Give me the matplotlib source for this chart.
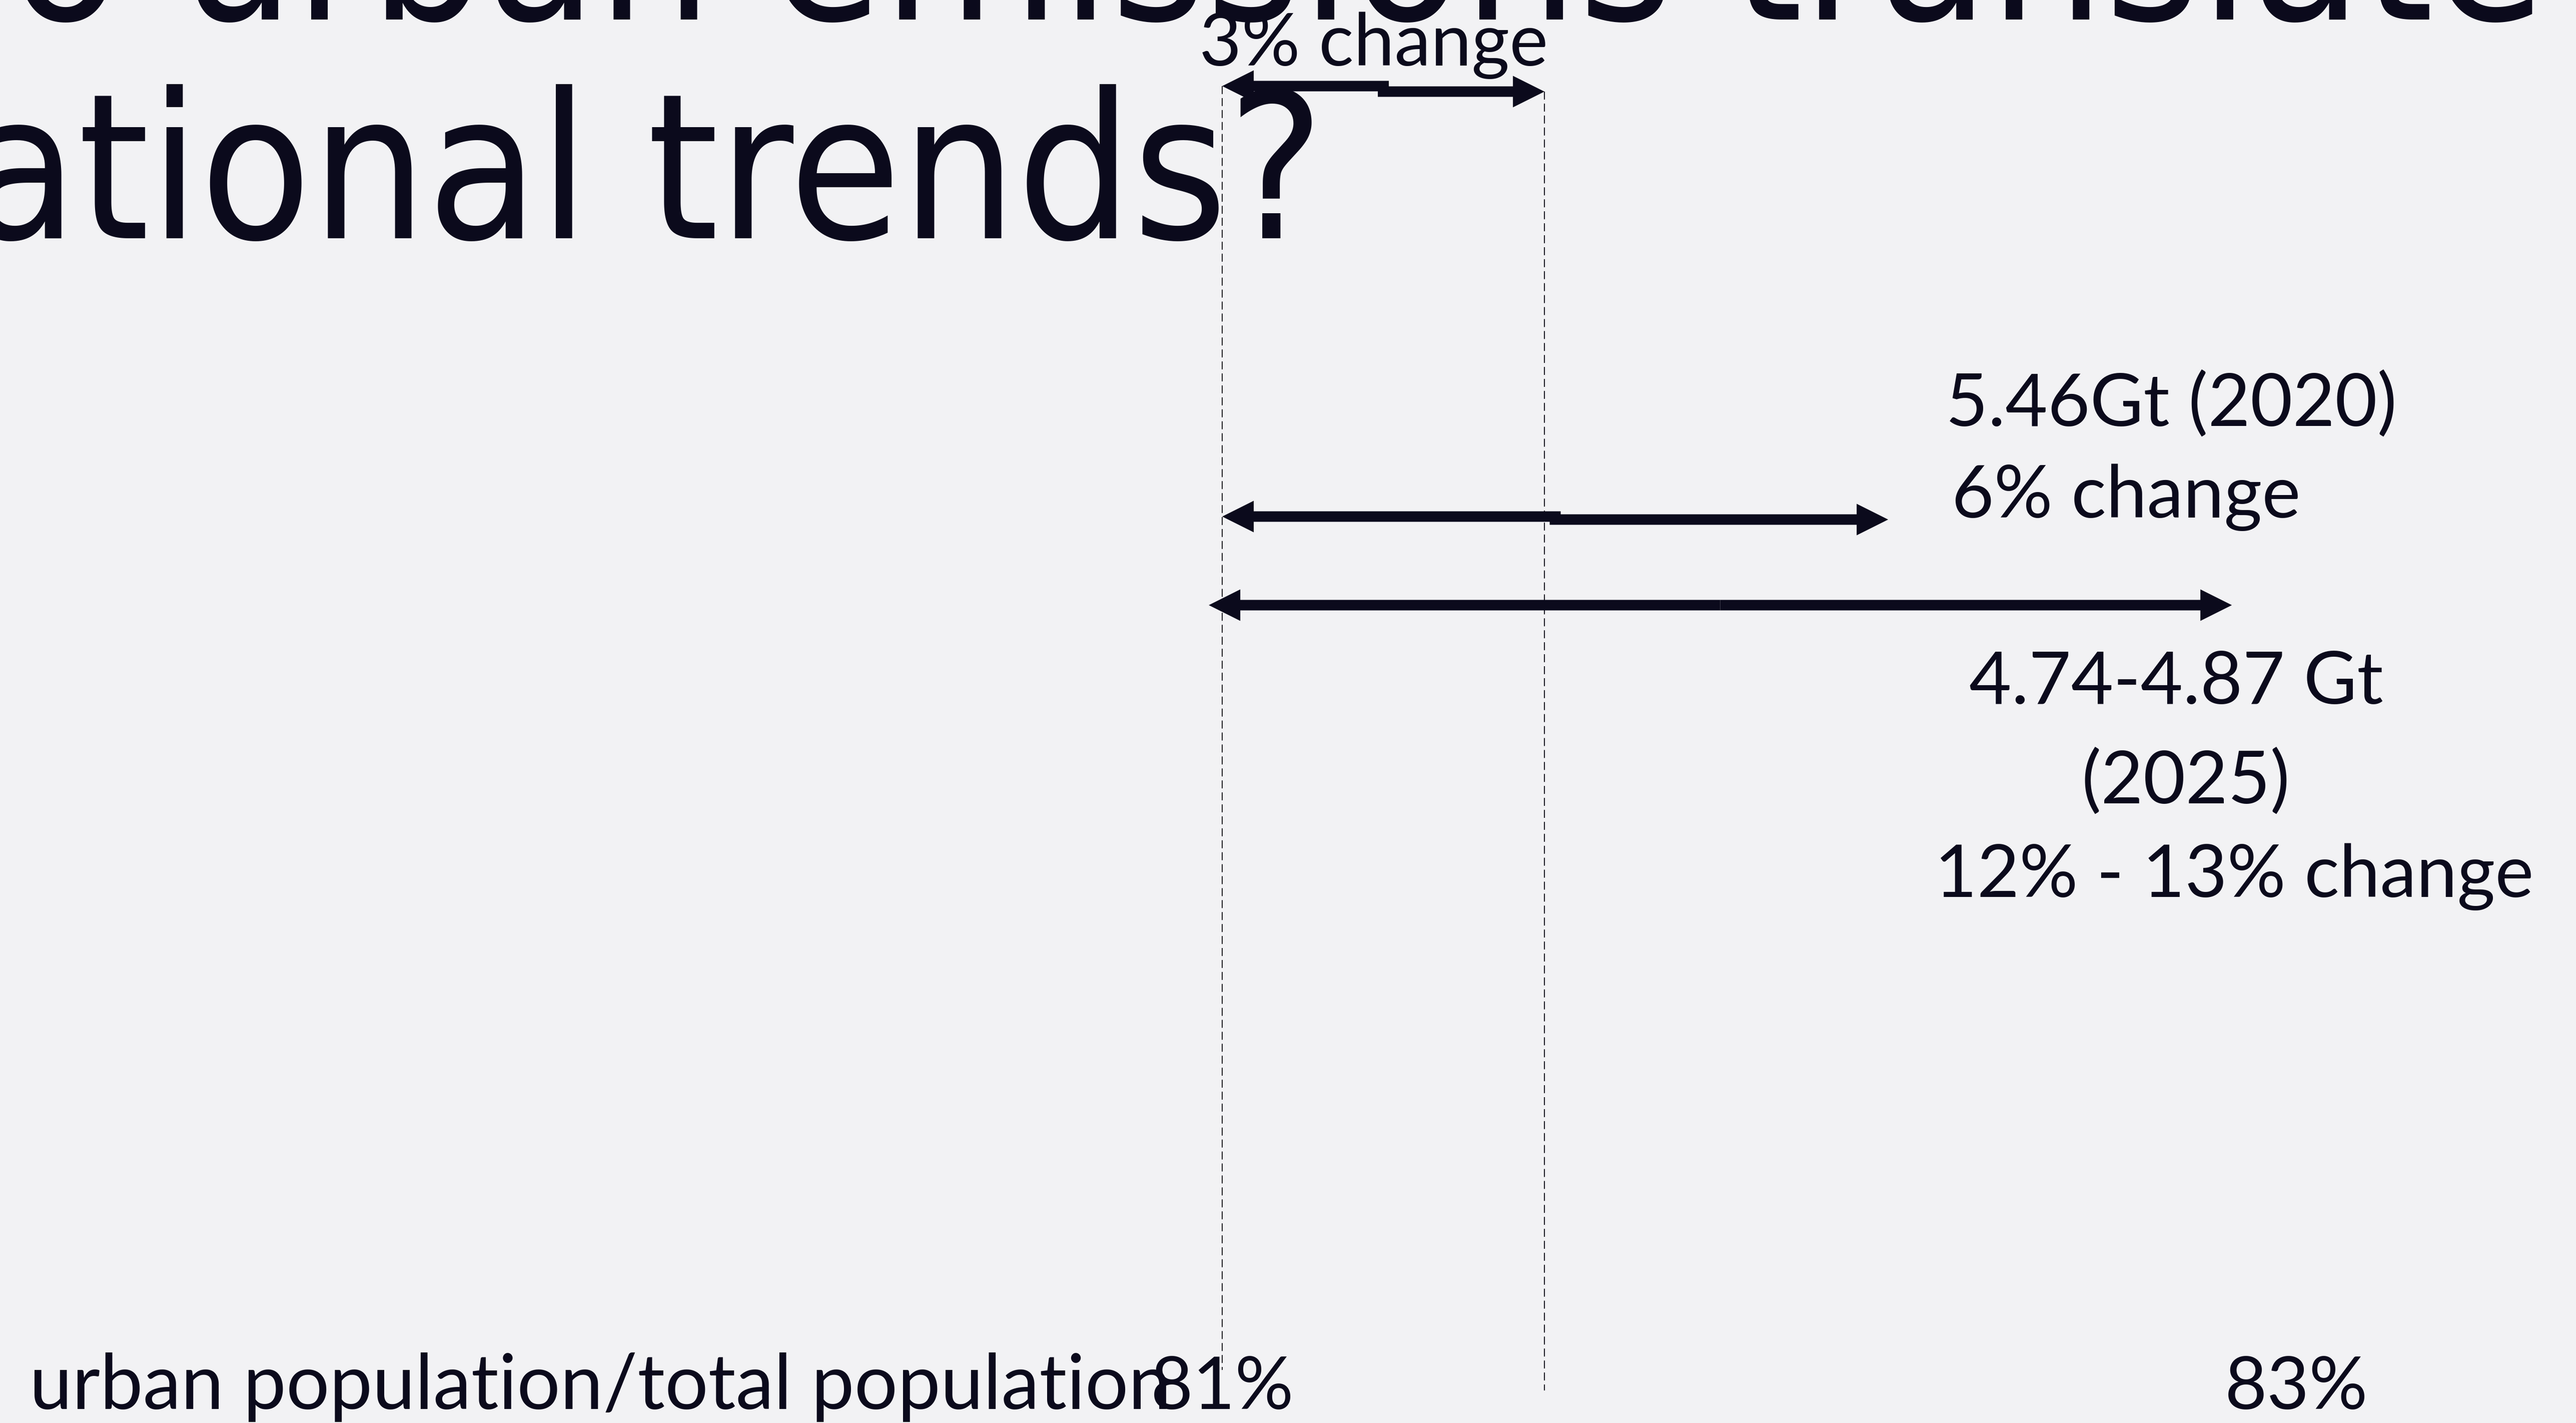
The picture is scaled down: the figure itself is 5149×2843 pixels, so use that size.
import os
import matplotlib
matplotlib.use('Agg')
import matplotlib.pyplot as plt
from matplotlib import font_manager
from matplotlib.patches import FancyArrowPatch

W, H = 5149, 2843
DPI = 100
PT = 72.0 / DPI          # points per pixel

BG = '#f2f2f4'
INK = '#0b0a1c'

# title (two lines of a slide title, partly cut off by the crop)
title_lines = ['How do urban emissions translate', 'into national trends?']

# x axis: urban population / total population (%)
share_ticks = [81, 83]
share_labels = ['81%', '83%']
axis_label = 'urban population/total population'

# change arrows, start and end on the urban share axis (%)
arrow_start = [81.0, 81.0, 80.975]
arrow_end = [81.6, 82.24, 82.88]
arrow_split = [True, True, False]

# dashed guides at both ends of the 3% arrow
guide_x = [81.0, 81.6]

# annotation texts
change_labels = ['3% change', '5.46Gt (2020)', '6% change',
                 '4.74-4.87 Gt', '(2025)', '12% - 13% change']

# ---- layout (pixels from top-left) ----
px_per_pct = (4590 - 2443) / 2.0
x_left = 81 - 2443 / px_per_pct
x_right = x_left + W / px_per_pct
arrow_rows = [(172, 183), (1032, 1038), (1209, 1209)]
guide_span = [(172, 2737), (183, 2778)]
label_pos = [(2397, 131), (3889, 851), (3901, 1034),
             (3936, 1406), (4160, 1605), (3867, 1792)]
tick_base = 2815

# title font: DejaVu Sans Condensed if present, else plain DejaVu Sans
cond = [f.fname for f in font_manager.fontManager.ttflist
        if os.path.basename(f.fname) == 'DejaVuSansCondensed.ttf']
if cond:
    title_fp = font_manager.FontProperties(fname=cond[0], size=405 * PT)
else:
    title_fp = font_manager.FontProperties(family='DejaVu Sans', size=368 * PT)

body = dict(family=['Lato', 'DejaVu Sans'], fontsize=146 * PT, color=INK)

fig = plt.figure(figsize=(W / DPI, H / DPI), dpi=DPI)
fig.patch.set_facecolor(BG)

# text layer (pixel coords)
lay = fig.add_axes([0, 0, 1, 1], zorder=0)
lay.set_xlim(0, W)
lay.set_ylim(H, 0)
lay.axis('off')

lay.text(5088, 39, title_lines[0], ha='right', va='baseline',
         fontproperties=title_fp, color=INK)
lay.text(2647, 476, title_lines[1], ha='right', va='baseline',
         fontproperties=title_fp, color=INK)

for s, (x, y) in zip(change_labels, label_pos):
    lay.text(x, y, s, ha='left', va='baseline', **body)
lay.text(59, tick_base, axis_label, ha='left', va='baseline',
         family=['Lato', 'DejaVu Sans'], fontsize=153 * PT, color=INK)

# data layer: urban share on x, pixel rows on y
ax = fig.add_axes([0, 0, 1, 1], zorder=1)
ax.patch.set_alpha(0)
ax.set_xlim(x_left, x_right)
ax.set_ylim(H, 0)
ax.axis('off')

for gx, (y0, y1) in zip(guide_x, guide_span):
    ax.vlines(gx, y0, y1, colors=INK, linewidth=1.4,
              linestyles=(0, (8.2, 4.1)), zorder=1)

for t, lab in zip(share_ticks, share_labels):
    ax.text(t, tick_base, lab, ha='center', va='baseline', zorder=2, **body)

overlap = 11 / px_per_pct
for a, b, split, (yl, yr) in zip(arrow_start, arrow_end, arrow_split, arrow_rows):
    mid = (a + b) / 2.0
    ov = overlap if split else 0.0
    for tail, head, y in [(mid + ov, a, yl), (mid - ov, b, yr)]:
        p = FancyArrowPatch((tail, y), (head, y),
                            arrowstyle='simple,head_length=1,head_width=1,tail_width=0.333',
                            mutation_scale=63 * PT, shrinkA=0, shrinkB=0,
                            color=INK, linewidth=0, zorder=3)
        ax.add_patch(p)

fig.savefig('out.png', dpi=DPI, facecolor=BG)
